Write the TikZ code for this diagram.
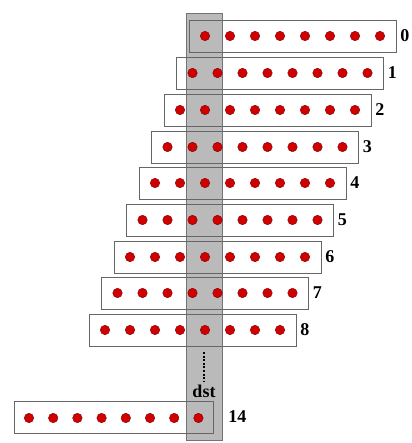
\documentclass[tikz,border=0pt]{standalone}
\usepackage{fontspec}
\setmainfont{Liberation Serif}
\usetikzlibrary{positioning}
\definecolor{dotred}{HTML}{D00000}
\definecolor{dotedge}{HTML}{7A0000}
\definecolor{colgray}{HTML}{BABABA}

\begin{document}
\begin{tikzpicture}[x=1pt, y=-1pt,
  every node/.style={font=\fontsize{18}{18}\selectfont\bfseries},
  column/.style={fill=colgray, draw=black!55, minimum width=36pt, minimum height=427pt, inner sep=0pt},
  rowbox/.style={draw=black!60, minimum width=207pt, minimum height=32pt, inner sep=0pt},
  pt/.style={circle, fill=dotred, draw=dotedge, minimum size=9.5pt, inner sep=0pt},
  rowlabel/.style={inner sep=0pt, anchor=west}
]
  \useasboundingbox (2,0) rectangle (413,443);

  % shaded column
  \node[column] (col) at (206,226.5) {};

  % rows 0..8, each shifted half a step to the left
  \foreach \r/\y in {0/36,1/73,2/110,3/147,4/183,5/220,6/257,7/293,8/330} {
    \node[rowbox] (row\r) at ({294.5-12.5*\r},\y) {};
    \foreach \k in {0,...,7}
      \node[pt] (d\r-\k) at ({207+25*(\k-\r/2)},\y) {};
    \node[rowlabel, right=4pt of row\r] (lab\r) {\r};
  }

  % last row
  \node[rowbox, minimum width=199pt] (row14) at (115.5,417) {};
  \foreach \k in {0,...,7}
    \node[pt] (d14-\k) at ({31+24.2*\k},418) {};
  \node[rowlabel] (lab14) at ([xshift=6pt]col.east |- row14) {14};

  \node (dst) at (206,391) {dst};
  \coordinate (gap) at (206,352);
  \draw[line width=2.2pt, dash pattern=on 2pt off 1.6pt] (gap) -- (dst.north);
\end{tikzpicture}
\end{document}
